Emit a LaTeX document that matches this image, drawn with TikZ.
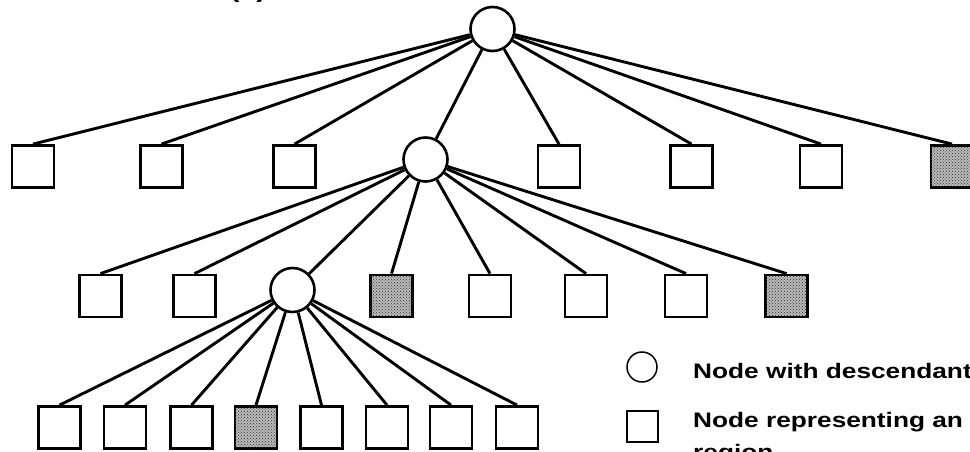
\documentclass[tikz,border=0pt]{standalone}
\usepackage{fontspec}
\setmainfont{Liberation Sans}
\newfontfamily\keyfont[FakeStretch=1.25]{Liberation Sans}
\usetikzlibrary{
    positioning,  % Relative positioning
    patterns      % Dotted fill of the marked leaves
}

\tikzset{
    inner/.style={draw, circle, line width=2.6pt, minimum size=44pt, inner sep=0pt, fill=white},
    leaf/.style={draw, rectangle, line width=2.8pt, minimum size=42pt, inner sep=0pt, fill=white},
    marked/.style={fill=gray!55, postaction={pattern=crosshatch dots, pattern color=black!80}},
    edge/.style={line width=2.9pt},
    keytext/.style={font=\keyfont\bfseries\fontsize{21}{32}\selectfont, inner sep=0pt, anchor=base west}
}

\begin{document}
\begin{tikzpicture}[x=1pt,y=-1pt]
    \useasboundingbox (0,0) rectangle (970,452);
    \clip (0,0) rectangle (970,452);

    % figure label, cut at the top edge
    \node[font=\keyfont\bfseries\fontsize{24}{26}\selectfont, inner sep=0pt, anchor=base] (tag) at (248,-2) {(a)};

    % root
    \node[inner] (root) at (492.5,29) {};

    % first level
    \foreach \x [count=\i] in {33,161.5,294.5,559,691.5,821}
        \node[leaf] (a\i) at (\x,166.5) {};
    \node[leaf,marked] (a7) at (952,166.5) {};
    \node[inner] (b) at (425.5,159.5) {};

    % second level
    \foreach \x [count=\i] in {100.5,194.5}
        \node[leaf] (b\i) at (\x,296) {};
    \node[leaf,marked] (b3) at (391.5,296) {};
    \foreach \x [count=\i from 4] in {490,586,686}
        \node[leaf] (b\i) at (\x,296) {};
    \node[leaf,marked] (b7) at (786.5,296) {};
    \node[inner] (c) at (292.5,290) {};

    % third level
    \foreach \x [count=\i] in {59.5,125,191.5}
        \node[leaf] (c\i) at (\x,427.5) {};
    \node[leaf,marked] (c4) at (256,427.5) {};
    \foreach \x [count=\i from 5] in {321.5,387,451,517}
        \node[leaf] (c\i) at (\x,427.5) {};

    % edges
    \foreach \i in {1,...,7}
        \draw[edge] (root) -- (a\i.north);
    \draw[edge] (root) -- (b);
    \foreach \i in {1,...,7}
        \draw[edge] (b) -- (b\i.north);
    \draw[edge] (b) -- (c);
    \foreach \i in {1,...,8}
        \draw[edge] (c) -- (c\i.north);

    % legend
    \node[draw, circle, line width=1.5pt, minimum size=30pt, inner sep=0pt] (keyinner) at (642,367) {};
    \node[draw, rectangle, line width=1.7pt, minimum size=31pt, inner sep=0pt] (keyleaf) at (642.5,426.5) {};
    \node[keytext] (keyinnertext) at (693,378) {Node with descendants};
    \node[keytext] (keyleaftext) at (693,427) {Node representing an};
    \node[keytext] (keyleafmore) at (693,459) {region};
\end{tikzpicture}
\end{document}
